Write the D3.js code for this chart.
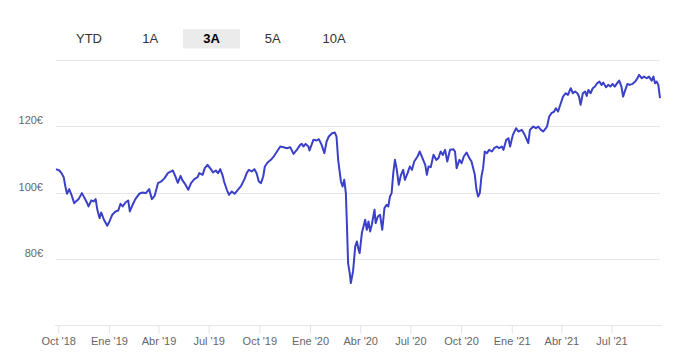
<!DOCTYPE html>
<html><head><meta charset="utf-8">
<script src="https://cdn.jsdelivr.net/npm/d3@7"></script>
<style>body{margin:0;background:#fff;} svg{display:block;font-family:"Liberation Sans",Arial,sans-serif;}</style>
</head><body><svg id="c" width="693" height="360"></svg>
<script>
const rangeButtons = ["YTD","1A","3A","5A","10A"];
const selectedRange = "3A";
const dates = [
"2018-09-27","2018-10-03","2018-10-07","2018-10-11","2018-10-14","2018-10-17","2018-10-21","2018-10-25","2018-10-30",
"2018-11-02","2018-11-07","2018-11-13","2018-11-17","2018-11-22","2018-11-25","2018-11-30",
"2018-12-04","2018-12-08","2018-12-11","2018-12-15","2018-12-18","2018-12-23","2018-12-29",
"2019-01-02","2019-01-07","2019-01-13","2019-01-18","2019-01-22","2019-01-26","2019-01-31",
"2019-02-05","2019-02-08","2019-02-13","2019-02-18","2019-02-25",
"2019-03-03","2019-03-09","2019-03-15","2019-03-20","2019-03-25","2019-03-31",
"2019-04-06","2019-04-12","2019-04-18","2019-04-27",
"2019-05-02","2019-05-06","2019-05-11","2019-05-14","2019-05-19","2019-05-25","2019-05-30",
"2019-06-05","2019-06-11","2019-06-14","2019-06-20","2019-06-24","2019-06-29",
"2019-07-05","2019-07-09","2019-07-14","2019-07-18","2019-07-22","2019-07-26","2019-07-29",
"2019-08-03","2019-08-07","2019-08-12","2019-08-17","2019-08-23","2019-08-29",
"2019-09-04","2019-09-08","2019-09-12","2019-09-17","2019-09-22","2019-09-26","2019-09-30",
"2019-10-04","2019-10-08","2019-10-11","2019-10-16","2019-10-23","2019-10-28",
"2019-11-02","2019-11-08","2019-11-14","2019-11-20","2019-11-26",
"2019-12-02","2019-12-08","2019-12-14","2019-12-17","2019-12-20","2019-12-24","2019-12-29","2019-12-31",
"2020-01-07","2020-01-13","2020-01-17","2020-01-22","2020-01-27","2020-01-31",
"2020-02-04","2020-02-10","2020-02-15","2020-02-18","2020-02-21","2020-02-26","2020-02-29",
"2020-03-03","2020-03-06","2020-03-08","2020-03-10","2020-03-13","2020-03-15","2020-03-19","2020-03-23","2020-03-26","2020-03-29","2020-03-31",
"2020-04-04","2020-04-07","2020-04-10","2020-04-13","2020-04-16","2020-04-19","2020-04-22","2020-04-27","2020-04-29",
"2020-05-03","2020-05-07","2020-05-11","2020-05-15","2020-05-19","2020-05-22","2020-05-25","2020-05-28","2020-05-31",
"2020-06-03","2020-06-06","2020-06-10","2020-06-14","2020-06-18","2020-06-21","2020-06-26","2020-06-30",
"2020-07-04","2020-07-08","2020-07-14","2020-07-18","2020-07-23","2020-07-28","2020-07-31",
"2020-08-03","2020-08-07","2020-08-12","2020-08-17","2020-08-21","2020-08-25","2020-08-29",
"2020-09-02","2020-09-06","2020-09-11","2020-09-17","2020-09-20","2020-09-23","2020-09-28",
"2020-10-02","2020-10-06","2020-10-11","2020-10-16","2020-10-20","2020-10-23","2020-10-26","2020-10-29",
"2020-11-01","2020-11-04","2020-11-07","2020-11-10","2020-11-13","2020-11-17","2020-11-21","2020-11-26","2020-11-30",
"2020-12-05","2020-12-09","2020-12-14","2020-12-17","2020-12-22","2020-12-26","2020-12-29",
"2021-01-03","2021-01-09","2021-01-13","2021-01-19","2021-01-23","2021-01-27","2021-01-31",
"2021-02-03","2021-02-09","2021-02-14","2021-02-18","2021-02-23","2021-02-27",
"2021-03-04","2021-03-06","2021-03-10","2021-03-14","2021-03-19","2021-03-22","2021-03-26","2021-03-31",
"2021-04-04","2021-04-09","2021-04-13","2021-04-18","2021-04-22","2021-04-26","2021-04-30",
"2021-05-03","2021-05-06","2021-05-10","2021-05-14","2021-05-17","2021-05-20","2021-05-24","2021-05-28",
"2021-06-01","2021-06-05","2021-06-09","2021-06-13","2021-06-16","2021-06-21","2021-06-25","2021-06-29",
"2021-07-03","2021-07-07","2021-07-11","2021-07-15","2021-07-19","2021-07-22","2021-07-26","2021-07-30",
"2021-08-03","2021-08-08","2021-08-13","2021-08-17","2021-08-20","2021-08-25","2021-08-29",
"2021-09-03","2021-09-07","2021-09-12","2021-09-15","2021-09-18","2021-09-21","2021-09-24","2021-09-27"
];
const values = [
107.1,106.7,105.9,104.7,101.9,99.7,101.1,99.4,96.9,
97.4,98.1,99.9,98.7,97.1,95.9,97.7,
97.4,98.1,94.9,92.4,94.1,91.9,90.1,
91.4,93.4,94.4,94.7,96.7,95.9,97.1,
97.7,94.4,96.4,98.1,99.7,
100.1,99.9,101.1,98.1,99.1,102.9,
103.4,104.4,105.9,106.7,
104.8,103.0,105.1,103.9,102.7,100.9,102.9,
104.1,104.7,105.9,105.4,107.4,108.4,
107.1,106.1,106.7,105.9,107.1,105.4,103.4,
100.9,99.4,100.4,99.7,100.9,102.1,
104.1,105.9,106.9,106.4,107.1,105.9,103.4,
102.9,104.9,107.9,109.1,110.1,111.1,
112.4,113.9,113.7,113.4,113.7,
111.7,112.9,114.4,114.7,113.9,114.7,113.9,112.7,
115.9,115.7,116.1,114.4,111.9,115.4,
116.9,117.9,118.1,116.9,109.9,103.4,101.9,
103.9,99.9,89.9,78.9,75.9,72.9,76.4,83.9,85.4,82.9,81.9,
87.9,89.9,91.9,88.9,91.4,88.4,90.4,94.9,90.9,
92.9,93.4,88.9,95.4,96.4,95.9,98.9,99.9,105.9,
109.9,107.4,102.4,105.4,106.9,103.9,105.9,107.9,
106.9,109.4,110.9,112.4,110.4,108.4,105.4,
107.9,107.7,111.4,109.9,110.4,112.4,111.4,
112.9,109.4,112.9,113.1,112.4,107.4,109.9,
108.9,110.9,112.1,110.4,109.4,107.4,105.4,100.9,
98.9,99.9,104.9,107.4,112.4,111.9,112.9,112.4,113.4,
113.9,113.4,113.9,112.9,115.9,116.4,113.9,
117.4,119.4,118.4,118.9,117.9,116.4,114.9,
118.9,119.9,119.4,119.9,118.9,118.4,
119.4,119.9,122.9,123.9,124.4,125.4,124.4,126.9,
128.9,129.9,129.4,131.4,129.9,130.4,129.9,
128.9,126.4,129.9,130.4,129.1,130.9,129.9,131.4,
131.9,132.9,133.4,132.4,133.1,131.7,132.4,131.9,
132.7,131.9,132.9,133.7,131.9,128.9,130.9,132.7,
132.4,132.7,133.4,134.4,135.4,134.4,134.9,
134.4,134.9,133.7,134.9,132.9,133.4,132.4,128.4
];
const yGridTicks = [80,100,120,140];
const yLabelTicks = [80,100,120];
const xTickDates = ["2018-10-01","2019-01-01","2019-04-01","2019-07-01","2019-10-01","2020-01-01","2020-04-01","2020-07-01","2020-10-01","2021-01-01","2021-04-01","2021-07-01"];
const xTickLabels = ["Oct '18","Ene '19","Abr '19","Jul '19","Oct '19","Ene '20","Abr '20","Jul '20","Oct '20","Ene '21","Abr '21","Jul '21"];

const parse = d3.utcParse("%Y-%m-%d");
const data = dates.map((d,i)=>({date:parse(d), value:values[i]}));
const svg = d3.select("#c");

const x = d3.scaleUtc().domain([parse("2018-09-27"), parse("2021-09-27")]).range([56,660]);
const y = d3.scaleLinear().domain([60,140]).range([326,59.6]);

// range buttons
const bx = d3.scalePoint().domain(rangeButtons).range([89,334]);
const btn = svg.append("g");
btn.append("rect").attr("x", bx(selectedRange)-28.5).attr("y",29).attr("width",57).attr("height",19.5)
  .attr("fill","#ebebeb");
btn.selectAll("text").data(rangeButtons).join("text")
  .attr("x", d=>bx(d)).attr("y",43).attr("text-anchor","middle")
  .attr("font-size",13).attr("fill", d=>d===selectedRange?"#000":"#333")
  .attr("font-weight", d=>d===selectedRange?"bold":"normal").text(d=>d);

// grid
svg.append("g").selectAll("line").data(yGridTicks).join("line")
  .attr("x1",56).attr("x2",660).attr("y1",d=>Math.round(y(d))+0.5).attr("y2",d=>Math.round(y(d))+0.5)
  .attr("stroke","#e6e6e6").attr("stroke-width",1);

// y labels
svg.append("g").selectAll("text").data(yLabelTicks).join("text")
  .attr("x",43).attr("y",d=>y(d)-2).attr("text-anchor","end")
  .attr("font-size",11).attr("fill","#666").text(d=>d+"€");

// x axis
const xa = svg.append("g").attr("transform","translate(0,325.5)")
  .call(d3.axisBottom(x).tickValues(xTickDates.map(parse)).tickFormat((d,i)=>xTickLabels[i]).tickSize(8).tickSizeOuter(0));
xa.select(".domain").attr("stroke","#e6e6e6").attr("d","M55,0H662");
xa.selectAll(".tick line").attr("stroke","#dde3ef");
xa.selectAll(".tick text").attr("y",12).attr("font-size",11).attr("fill","#666")
  .attr("font-family","\"Liberation Sans\",Arial,sans-serif");

// line
const line = d3.line().x(d=>x(d.date)).y(d=>y(d.value)).curve(d3.curveLinear);
svg.append("path").datum(data).attr("d",line).attr("fill","none")
  .attr("stroke","#3b40c8").attr("stroke-width",2).attr("stroke-linejoin","round");
</script></body></html>
